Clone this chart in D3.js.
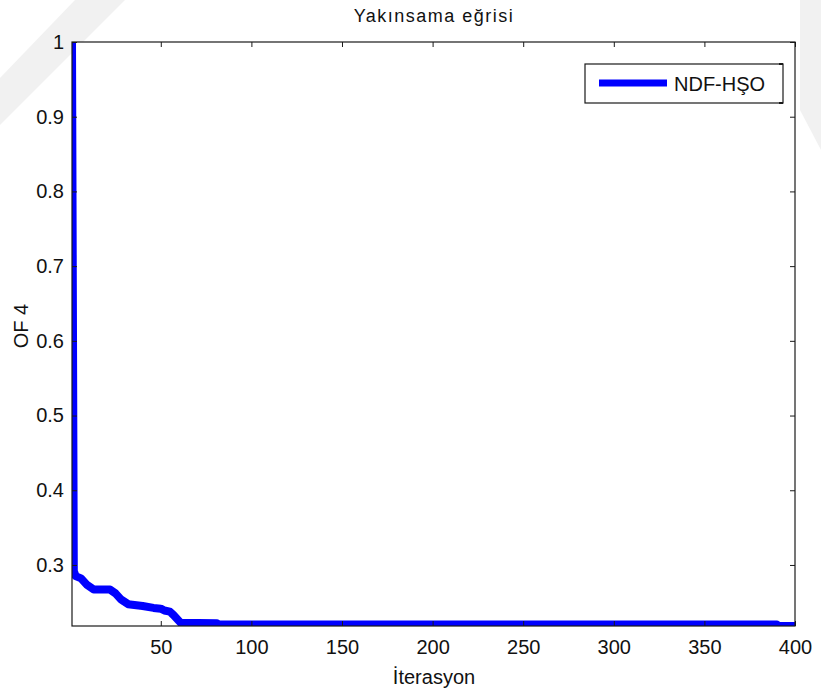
<!DOCTYPE html>
<html>
<head>
<meta charset="utf-8">
<script src="https://cdn.jsdelivr.net/npm/d3@7"></script>
<style>
  html, body { margin: 0; padding: 0; background: #fff; }
  svg { display: block; }
  text { font-family: "Liberation Sans", Arial, sans-serif; fill: #111; }
</style>
</head>
<body>
<svg id="chart" width="821" height="695"></svg>
<script>
// Convergence curve (best objective value per iteration)
const iterations = [1, 2, 3, 6, 9, 13, 22, 25, 28, 32, 40, 46, 50, 52, 55, 57, 61, 81, 82, 390, 391, 400];
const ofValues   = [1, 0.292, 0.285, 0.282, 0.274, 0.267, 0.267, 0.262, 0.254, 0.2475, 0.245, 0.2425, 0.2415, 0.239, 0.2375, 0.233, 0.2225, 0.222, 0.2203, 0.2203, 0.2183, 0.2183];

const xTicks = [50, 100, 150, 200, 250, 300, 350, 400];
const yTicks = [0.3, 0.4, 0.5, 0.6, 0.7, 0.8, 0.9, 1];

const seriesName = "NDF-HŞO";
const titleText = "Yakınsama eğrisi";
const xLabel = "İterasyon";
const yLabel = "OF 4";

const plot = { left: 72, right: 795, top: 42, bottom: 626 };

const svg = d3.select("#chart");

// faint background sheet marks
const marks = [
  [[0, 78], [75, 0], [125, 0], [0, 125]],
  [[800, 0], [821, 0], [821, 150], [800, 110]]
];
svg.append("g").selectAll("polygon").data(marks).join("polygon")
  .attr("points", d => d.map(p => p.join(",")).join(" "))
  .attr("fill", "#f1f1f1");

const x = d3.scaleLinear().domain([1, 400]).range([plot.left, plot.right]);
const y = d3.scaleLinear().domain([d3.min(ofValues), 1]).range([plot.bottom, plot.top]);

// plot area background
svg.append("rect")
  .attr("x", plot.left).attr("y", plot.top)
  .attr("width", plot.right - plot.left).attr("height", plot.bottom - plot.top)
  .attr("fill", "#fff");

svg.append("clipPath").attr("id", "plotClip")
  .append("rect")
  .attr("x", plot.left).attr("y", plot.top)
  .attr("width", plot.right - plot.left).attr("height", plot.bottom - plot.top);

// curve
const pts = iterations.map((it, i) => [it, ofValues[i]]);
const line = d3.line().x(d => x(d[0])).y(d => y(d[1]));
svg.append("path")
  .datum(pts)
  .attr("clip-path", "url(#plotClip)")
  .attr("d", line)
  .attr("fill", "none")
  .attr("stroke", "#0000ff")
  .attr("stroke-width", 8)
  .attr("stroke-linejoin", "round");

// axes: inward ticks on all four sides
const axisColor = "#1a1a1a";
function styleAxis(g) {
  g.select(".domain").remove();
  g.selectAll(".tick line").attr("stroke", axisColor);
  g.selectAll(".tick text").attr("font-size", 20).attr("fill", "#111")
    .attr("font-family", "Liberation Sans, Arial, sans-serif");
}

svg.append("g")
  .attr("transform", `translate(0,${plot.bottom})`)
  .call(d3.axisBottom(x).tickValues(xTicks).tickFormat(d3.format("d")).tickSize(-5).tickPadding(14))
  .call(styleAxis);

svg.append("g")
  .attr("transform", `translate(0,${plot.top})`)
  .call(d3.axisTop(x).tickValues(xTicks).tickFormat("").tickSize(-5))
  .call(styleAxis);

svg.append("g")
  .attr("transform", `translate(${plot.left},0)`)
  .call(d3.axisLeft(y).tickValues(yTicks).tickFormat(d => d === 1 ? "1" : d3.format(".1f")(d)).tickSize(-5).tickPadding(8))
  .call(styleAxis);

svg.append("g")
  .attr("transform", `translate(${plot.right},0)`)
  .call(d3.axisRight(y).tickValues(yTicks).tickFormat("").tickSize(-5))
  .call(styleAxis);

// axes box
svg.append("rect")
  .attr("x", plot.left).attr("y", plot.top)
  .attr("width", plot.right - plot.left).attr("height", plot.bottom - plot.top)
  .attr("fill", "none").attr("stroke", axisColor).attr("stroke-width", 1.2);

// title and axis labels
svg.append("text")
  .attr("x", 434).attr("y", 22)
  .attr("text-anchor", "middle")
  .attr("font-size", 18)
  .attr("letter-spacing", 1.5)
  .text(titleText);

svg.append("text")
  .attr("x", 434).attr("y", 684)
  .attr("text-anchor", "middle")
  .attr("font-size", 20)
  .text(xLabel);

svg.append("text")
  .attr("transform", `translate(28,326) rotate(-90)`)
  .attr("text-anchor", "middle")
  .attr("font-size", 20)
  .text(yLabel);

// legend
const lg = svg.append("g");
lg.append("rect")
  .attr("x", 585).attr("y", 64).attr("width", 198).attr("height", 39)
  .attr("fill", "#fff").attr("stroke", axisColor).attr("stroke-width", 1.2);
lg.append("line")
  .attr("x1", 599).attr("x2", 667).attr("y1", 83).attr("y2", 83)
  .attr("stroke", "#0000ff").attr("stroke-width", 7);
lg.append("text")
  .attr("x", 674).attr("y", 91)
  .attr("font-size", 20)
  .text(seriesName);
// small corner ticks of the legend frame
[[783, 64], [783, 103]].forEach(([cx, cy]) => {
  lg.append("line").attr("x1", cx - 4).attr("x2", cx).attr("y1", cy).attr("y2", cy)
    .attr("stroke", axisColor).attr("stroke-width", 2);
});
</script>
</body>
</html>
